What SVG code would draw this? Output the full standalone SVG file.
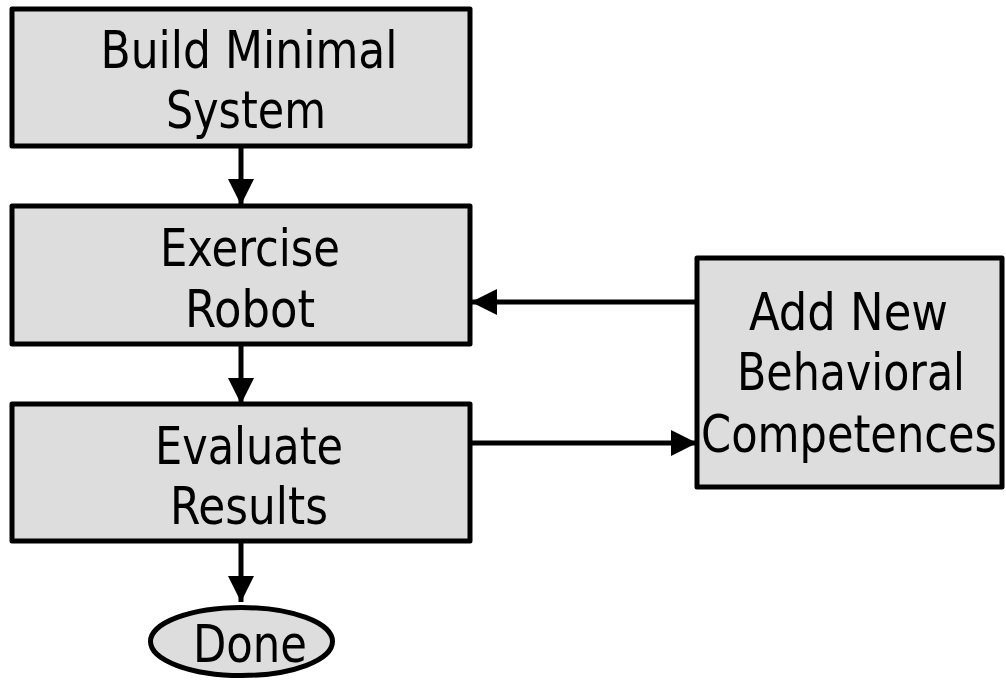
<svg xmlns="http://www.w3.org/2000/svg" width="1006" height="680" viewBox="0 0 1006 680">
<style>
.box{fill:#dddddd;stroke:#000;stroke-width:5;stroke-linejoin:round}
.lbl{font-family:"DejaVu Sans Condensed","DejaVu Sans",Verdana,sans-serif;font-stretch:condensed;font-size:52px;fill:#000;text-anchor:middle}
.con{stroke:#000;stroke-width:5;fill:none}
</style>
<defs>
<marker id="ah" markerUnits="userSpaceOnUse" viewBox="0 0 26 26" refX="26" refY="13" markerWidth="26" markerHeight="26" orient="auto">
<path d="M0,0 L26,13 L0,26 Z" fill="#000"/>
</marker>
</defs>
<rect width="1006" height="680" fill="#fff"/>
<g id="connectors">
<line class="con" x1="241" y1="147" x2="241" y2="205" marker-end="url(#ah)"/>
<line class="con" x1="241" y1="344" x2="241" y2="404" marker-end="url(#ah)"/>
<line class="con" x1="241" y1="541" x2="241" y2="602" marker-end="url(#ah)"/>
<line class="con" x1="697" y1="302" x2="471" y2="302" marker-end="url(#ah)"/>
<line class="con" x1="470" y1="443" x2="697" y2="443" marker-end="url(#ah)"/>
</g>
<g id="build">
<rect class="box" x="12" y="9" width="458" height="137"/>
<text class="lbl" x="249" y="68" textLength="297" lengthAdjust="spacingAndGlyphs">Build Minimal</text>
<text class="lbl" x="246" y="128" textLength="160" lengthAdjust="spacingAndGlyphs">System</text>
</g>
<g id="exercise">
<rect class="box" x="12" y="206" width="458" height="138"/>
<text class="lbl" x="250" y="266" textLength="180" lengthAdjust="spacingAndGlyphs">Exercise</text>
<text class="lbl" x="250" y="327" textLength="130" lengthAdjust="spacingAndGlyphs">Robot</text>
</g>
<g id="evaluate">
<rect class="box" x="12" y="404" width="458" height="137"/>
<text class="lbl" x="249" y="464" textLength="188" lengthAdjust="spacingAndGlyphs">Evaluate</text>
<text class="lbl" x="249" y="524" textLength="158" lengthAdjust="spacingAndGlyphs">Results</text>
</g>
<g id="add">
<rect class="box" x="697" y="258" width="305" height="229"/>
<text class="lbl" x="848.5" y="330" textLength="199" lengthAdjust="spacingAndGlyphs">Add New</text>
<text class="lbl" x="851" y="390" textLength="228" lengthAdjust="spacingAndGlyphs">Behavioral</text>
<text class="lbl" x="849" y="452" textLength="296" lengthAdjust="spacingAndGlyphs">Competences</text>
</g>
<g id="done">
<ellipse class="box" cx="241.5" cy="641.5" rx="91" ry="34"/>
<text class="lbl" x="250" y="662" textLength="114" lengthAdjust="spacingAndGlyphs">Done</text>
</g>
</svg>
